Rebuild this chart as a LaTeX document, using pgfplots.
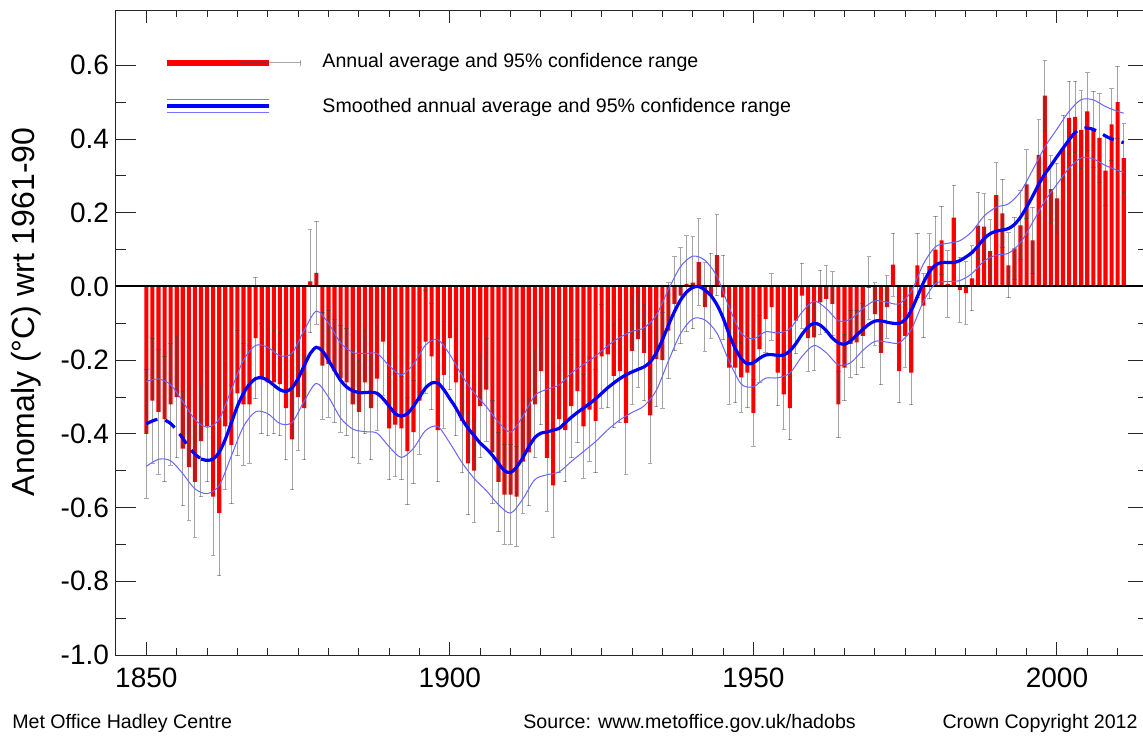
\documentclass[border=0pt]{standalone}
\usepackage{fontspec}
\setmainfont{Liberation Sans}
\usepackage{pgfplots}
\usepackage{pgfplotstable}
\pgfplotsset{compat=1.18}

\pgfplotstableread{
year val err
1850 -0.40 0.175
1851 -0.31 0.17
1852 -0.34 0.17
1853 -0.36 0.17
1854 -0.32 0.165
1855 -0.30 0.165
1856 -0.44 0.155
1857 -0.49 0.145
1858 -0.53 0.15
1859 -0.42 0.15
1860 -0.38 0.15
1861 -0.57 0.16
1862 -0.615 0.17
1863 -0.38 0.17
1864 -0.43 0.16
1865 -0.29 0.17
1866 -0.32 0.165
1867 -0.32 0.16
1868 -0.14 0.165
1869 -0.25 0.15
1870 -0.26 0.145
1871 -0.26 0.14
1872 -0.265 0.14
1873 -0.33 0.14
1874 -0.415 0.137
1875 -0.30 0.145
1876 -0.33 0.14
1877 0.014 0.14
1878 0.037 0.14
1879 -0.215 0.145
1880 -0.21 0.145
1881 -0.23 0.14
1882 -0.25 0.145
1883 -0.26 0.145
1884 -0.32 0.145
1885 -0.34 0.14
1886 -0.26 0.14
1887 -0.33 0.14
1888 -0.25 0.14
1889 -0.15 0.145
1890 -0.385 0.14
1891 -0.375 0.14
1892 -0.385 0.14
1893 -0.447 0.145
1894 -0.395 0.14
1895 -0.31 0.145
1896 -0.15 0.14
1897 -0.19 0.145
1898 -0.39 0.14
1899 -0.24 0.145
1900 -0.14 0.14
1901 -0.26 0.145
1902 -0.365 0.14
1903 -0.48 0.14
1904 -0.50 0.14
1905 -0.325 0.14
1906 -0.28 0.14
1907 -0.45 0.14
1908 -0.53 0.135
1909 -0.565 0.135
1910 -0.565 0.135
1911 -0.57 0.135
1912 -0.475 0.14
1913 -0.45 0.145
1914 -0.32 0.145
1915 -0.23 0.145
1916 -0.465 0.145
1917 -0.54 0.14
1918 -0.36 0.145
1919 -0.39 0.14
1920 -0.325 0.14
1921 -0.284 0.14
1922 -0.38 0.14
1923 -0.334 0.14
1924 -0.365 0.14
1925 -0.19 0.14
1926 -0.184 0.145
1927 -0.243 0.14
1928 -0.23 0.14
1929 -0.37 0.14
1930 -0.175 0.145
1931 -0.143 0.13
1932 -0.18 0.13
1933 -0.35 0.13
1934 -0.197 0.13
1935 -0.20 0.13
1936 -0.12 0.13
1937 -0.047 0.127
1938 -0.025 0.13
1939 0.007 0.13
1940 0.01 0.125
1941 0.066 0.117
1942 -0.056 0.12
1943 -0.025 0.115
1944 0.085 0.11
1945 -0.03 0.115
1946 -0.22 0.10
1947 -0.22 0.095
1948 -0.247 0.095
1949 -0.234 0.095
1950 -0.343 0.09
1951 -0.17 0.09
1952 -0.088 0.09
1953 -0.056 0.09
1954 -0.234 0.09
1955 -0.293 0.095
1956 -0.33 0.086
1957 -0.093 0.09
1958 -0.025 0.088
1959 -0.14 0.09
1960 -0.138 0.09
1961 -0.043 0.087
1962 -0.034 0.09
1963 -0.047 0.087
1964 -0.32 0.09
1965 -0.22 0.09
1966 -0.156 0.09
1967 -0.152 0.088
1968 -0.134 0.087
1969 -0.004 0.085
1970 -0.075 0.085
1971 -0.18 0.087
1972 -0.056 0.085
1973 0.059 0.085
1974 -0.23 0.085
1975 -0.134 0.085
1976 -0.234 0.087
1977 0.057 0.087
1978 -0.052 0.087
1979 0.055 0.088
1980 0.10 0.09
1981 0.125 0.093
1982 0.007 0.09
1983 0.187 0.087
1984 -0.009 0.088
1985 -0.018 0.085
1986 0.022 0.088
1987 0.165 0.09
1988 0.162 0.09
1989 0.096 0.085
1990 0.248 0.087
1991 0.198 0.093
1992 0.057 0.088
1993 0.103 0.085
1994 0.166 0.093
1995 0.277 0.094
1996 0.125 0.09
1997 0.357 0.095
1998 0.518 0.094
1999 0.264 0.09
2000 0.239 0.095
2001 0.375 0.09
2002 0.457 0.10
2003 0.46 0.097
2004 0.425 0.106
2005 0.475 0.105
2006 0.427 0.103
2007 0.403 0.12
2008 0.314 0.095
2009 0.44 0.097
2010 0.50 0.098
2011 0.348 0.094
}\bars

\pgfplotstableread{
year s
1850 -0.373
1851 -0.365
1852 -0.36
1853 -0.362
1854 -0.372
1855 -0.39
1856 -0.412
1857 -0.436
1858 -0.455
1859 -0.468
1860 -0.472
1861 -0.468
1862 -0.45
1863 -0.415
1864 -0.37
1865 -0.325
1866 -0.29
1867 -0.265
1868 -0.25
1869 -0.248
1870 -0.255
1871 -0.268
1872 -0.28
1873 -0.285
1874 -0.275
1875 -0.25
1876 -0.215
1877 -0.182
1878 -0.165
1879 -0.175
1880 -0.2
1881 -0.228
1882 -0.255
1883 -0.273
1884 -0.283
1885 -0.288
1886 -0.288
1887 -0.287
1888 -0.29
1889 -0.305
1890 -0.325
1891 -0.345
1892 -0.352
1893 -0.345
1894 -0.325
1895 -0.3
1896 -0.275
1897 -0.262
1898 -0.262
1899 -0.28
1900 -0.305
1901 -0.33
1902 -0.36
1903 -0.385
1904 -0.405
1905 -0.425
1906 -0.44
1907 -0.458
1908 -0.48
1909 -0.5
1910 -0.505
1911 -0.49
1912 -0.465
1913 -0.435
1914 -0.41
1915 -0.398
1916 -0.395
1917 -0.39
1918 -0.385
1919 -0.37
1920 -0.355
1921 -0.342
1922 -0.33
1923 -0.318
1924 -0.305
1925 -0.29
1926 -0.275
1927 -0.262
1928 -0.25
1929 -0.24
1930 -0.232
1931 -0.225
1932 -0.218
1933 -0.205
1934 -0.18
1935 -0.145
1936 -0.105
1937 -0.068
1938 -0.037
1939 -0.015
1940 -0.003
1941 0.0
1942 -0.01
1943 -0.025
1944 -0.05
1945 -0.085
1946 -0.13
1947 -0.168
1948 -0.196
1949 -0.21
1950 -0.207
1951 -0.195
1952 -0.186
1953 -0.185
1954 -0.187
1955 -0.186
1956 -0.175
1957 -0.155
1958 -0.13
1959 -0.11
1960 -0.1
1961 -0.105
1962 -0.12
1963 -0.14
1964 -0.153
1965 -0.157
1966 -0.148
1967 -0.132
1968 -0.117
1969 -0.103
1970 -0.094
1971 -0.093
1972 -0.097
1973 -0.1
1974 -0.1
1975 -0.09
1976 -0.065
1977 -0.028
1978 0.01
1979 0.04
1980 0.058
1981 0.065
1982 0.065
1983 0.065
1984 0.07
1985 0.08
1986 0.092
1987 0.11
1988 0.13
1989 0.143
1990 0.15
1991 0.153
1992 0.157
1993 0.168
1994 0.188
1995 0.215
1996 0.245
1997 0.277
1998 0.305
1999 0.328
2000 0.352
2001 0.375
2002 0.398
2003 0.418
2004 0.428
2005 0.43
2006 0.426
2007 0.418
2008 0.408
2009 0.4
2010 0.395
2011 0.39
}\smoothed

\pgfplotstableread{
year u l
1850 -0.258 -0.488
1852 -0.251 -0.469
1854 -0.267 -0.473
1856 -0.312 -0.508
1858 -0.361 -0.549
1860 -0.382 -0.562
1862 -0.360 -0.540
1864 -0.280 -0.460
1866 -0.200 -0.380
1868 -0.160 -0.340
1870 -0.165 -0.345
1872 -0.188 -0.372
1874 -0.181 -0.369
1876 -0.119 -0.311
1878 -0.067 -0.263
1880 -0.100 -0.300
1882 -0.153 -0.357
1884 -0.179 -0.387
1886 -0.182 -0.394
1888 -0.182 -0.398
1890 -0.215 -0.435
1892 -0.240 -0.464
1894 -0.211 -0.439
1896 -0.159 -0.391
1898 -0.144 -0.380
1900 -0.185 -0.425
1902 -0.242 -0.478
1904 -0.289 -0.521
1906 -0.326 -0.554
1908 -0.368 -0.592
1910 -0.395 -0.615
1912 -0.353 -0.577
1914 -0.296 -0.524
1916 -0.279 -0.511
1918 -0.267 -0.503
1920 -0.235 -0.475
1922 -0.212 -0.448
1924 -0.189 -0.421
1926 -0.161 -0.389
1928 -0.138 -0.362
1930 -0.122 -0.342
1932 -0.112 -0.324
1934 -0.078 -0.282
1936 -0.008 -0.202
1938 0.054 -0.128
1940 0.082 -0.088
1942 0.071 -0.091
1944 0.027 -0.127
1946 -0.057 -0.203
1948 -0.127 -0.265
1950 -0.142 -0.272
1952 -0.123 -0.249
1954 -0.126 -0.248
1956 -0.115 -0.235
1958 -0.070 -0.190
1960 -0.040 -0.160
1962 -0.060 -0.180
1964 -0.093 -0.213
1966 -0.089 -0.207
1968 -0.060 -0.174
1970 -0.039 -0.149
1972 -0.043 -0.151
1974 -0.047 -0.153
1976 -0.013 -0.117
1978 0.061 -0.041
1980 0.108 0.008
1982 0.117 0.013
1984 0.124 0.016
1986 0.149 0.035
1988 0.191 0.069
1990 0.215 0.085
1992 0.224 0.090
1994 0.257 0.119
1996 0.316 0.174
1998 0.378 0.232
2000 0.427 0.277
2002 0.475 0.321
2004 0.507 0.349
2006 0.506 0.346
2008 0.488 0.328
2010 0.475 0.315
2011 0.470 0.310
}\band

\begin{document}
\begin{tikzpicture}
\begin{axis}[
  scale only axis, width=516pt, height=322.5pt,
  xmin=1845, xmax=2015, ymin=-1, ymax=0.75,
  clip=false,
  axis line style={black!85, line width=0.5pt},
  tick align=inside,
  xtick={1850,1900,1950,2000},
  xticklabels={1850,1900,1950,2000},
  minor xtick={1855,1860,...,2010},
  ytick={-1,-0.8,-0.6,-0.4,-0.2,0,0.2,0.4,0.6},
  yticklabels={-1.0,-0.8,-0.6,-0.4,-0.2,0.0,0.2,0.4,0.6},
  minor ytick={-0.9,-0.7,-0.5,-0.3,-0.1,0.1,0.3,0.5},
  major tick length=10pt, minor tick length=5pt,
  every tick/.style={black!85, line width=0.5pt},
  every major x tick/.append style={/pgfplots/major tick length=6.5pt},
  every minor x tick/.append style={/pgfplots/minor tick length=3.5pt},
  tick label style={font=\fontsize{14}{16}\selectfont, black},
  x tick label style={yshift=-3pt},
  every axis y label/.style={at={(axis description cs:-0.0872,0.532)}, rotate=90, anchor=center, font=\fontsize{16}{19}\selectfont},
  ylabel={Anomaly (°C) wrt 1961-90},
  legend style={at={(rel axis cs:0.0465,0.9318)}, anchor=north west, draw=none, fill=none,
    inner sep=0pt, outer sep=0pt, row sep=13.5pt, font=\fontsize{9.8}{12}\selectfont,
    nodes={inner sep=0pt, text height=7pt, text depth=2pt},
    /tikz/every odd column/.append style={column sep=10.5pt}},
  legend cell align=left,
]
\addlegendimage{legend image code/.code={
  \draw[red, line width=3pt] (0pt,0pt) -- (51pt,0pt);
  \draw[black!75, opacity=0.45, line width=0.5pt] (36pt,0pt) -- (67pt,0pt);
  \draw[black!75, opacity=0.45, line width=0.5pt] (67pt,-1.5pt) -- (67pt,1.5pt);}}
\addlegendentry{Annual average and 95\% confidence range}
\addlegendimage{legend image code/.code={
  \draw[blue!55, line width=0.5pt] (0pt,4.2pt) -- (51pt,4.2pt);
  \draw[blue, line width=1.6pt] (0pt,1pt) -- (51pt,1pt);
  \draw[blue!55, line width=0.5pt] (0pt,-2.5pt) -- (51pt,-2.5pt);}}
\addlegendentry{Smoothed annual average and 95\% confidence range}

\addplot[ybar, bar width=0.68, fill=red, draw=none, forget plot,
  error bars/.cd, y dir=both, y explicit,
  error bar style={black!75, opacity=0.45, line width=0.5pt},
  error mark options={black!75, opacity=0.45, line width=0.5pt, mark size=1.1pt, rotate=90}]
  table[x=year, y=val, y error=err] {\bars};

\addplot[black, line width=1pt, forget plot] coordinates {(1845,0) (2015,0)};

\addplot[blue!60, line width=0.5pt, smooth, forget plot] table[x=year, y=u] {\band};
\addplot[blue!60, line width=0.5pt, smooth, forget plot] table[x=year, y=l] {\band};

\addplot[blue, line width=1.6pt, smooth, forget plot, dash pattern=on 6pt off 4pt,
  restrict x to domain=1850:1859] table[x=year, y=s] {\smoothed};
\addplot[blue, line width=1.6pt, smooth, forget plot,
  restrict x to domain=1859:2002] table[x=year, y=s] {\smoothed};
\addplot[blue, line width=1.6pt, smooth, forget plot, dash pattern=on 6pt off 4pt,
  restrict x to domain=2002:2011] table[x=year, y=s] {\smoothed};

\coordinate (bbsw) at (rel axis cs:0,0);
\node[anchor=base west, inner sep=0pt, font=\fontsize{9.8}{12}\selectfont] at (rel axis cs:-0.1008,-0.1147) {Met Office Hadley Centre};
\node[anchor=base west, inner sep=0pt, font=\fontsize{9.8}{12}\selectfont] at (rel axis cs:0.3944,-0.1147) {Source: www.metoffice.gov.uk/hadobs};
\node[anchor=base west, inner sep=0pt, font=\fontsize{9.8}{12}\selectfont] at (rel axis cs:0.8005,-0.1147) {Crown Copyright 2012};
\end{axis}
\pgfresetboundingbox
\path (bbsw) ++(-58pt,-40pt) rectangle ++(571.5pt,367.5pt);
\end{tikzpicture}
\end{document}
